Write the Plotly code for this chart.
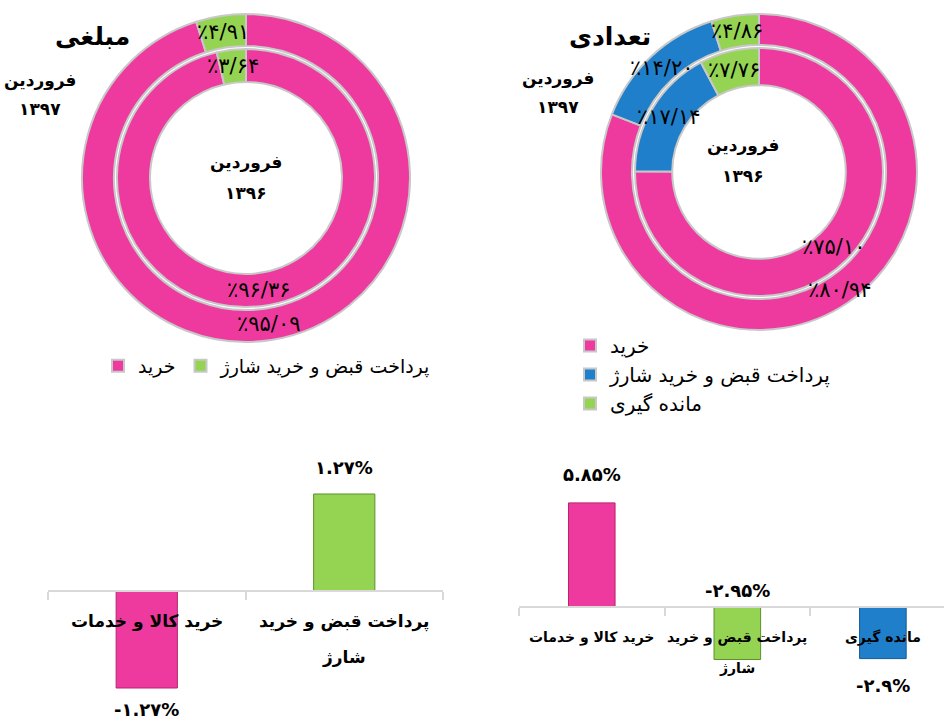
import math
import plotly.graph_objects as go

W, H = 944, 720

# ---------------- data ----------------
donut_labels = ["خرید", "پرداخت قبض و خرید شارژ", "مانده گیری"]
amount_1397 = [95.09, 4.91]          # outer ring, left (مبلغی)
amount_1396 = [96.36, 3.64]          # inner ring, left
count_1397 = [80.94, 14.20, 4.86]    # outer ring, right (تعدادی)
count_1396 = [75.10, 17.14, 7.76]    # inner ring, right

bar_cats_amount = ["خرید کالا و خدمات", "پرداخت قبض و خرید<br>شارژ"]
bar_vals_amount = [-1.27, 1.27]
bar_cats_count = ["خرید کالا و خدمات", "پرداخت قبض و خرید<br>شارژ", "مانده گیری"]
bar_vals_count = [5.85, -2.95, -2.9]

titles = ["مبلغی", "تعدادی"]
outer_period = ["فروردین", "۱۳۹۷"]
inner_period = ["فروردین", "۱۳۹۶"]

# ---------------- style ----------------
FONT = "DejaVu Sans"
PINK = "#EE3A9E"
GREEN = "#95D453"
BLUE = "#1F7FCB"
PINK_D = "#B8236F"
GREEN_D = "#5E8F2C"
BLUE_D = "#145A94"
RING_LINE = "#C8C8C8"
AXIS = "#D9D9D9"

FA = str.maketrans("0123456789", "۰۱۲۳۴۵۶۷۸۹")


def fa(s):
    return s.translate(FA)


def ring_label(v):
    return "٪" + fa(f"{v:.2f}".replace(".", "/"))


def bar_label(v):
    return fa(f"{v:g}") + "%"


fig = go.Figure()
annotations = []


def add_ring(vals, colors, box, hole, legend, group, showlegend):
    x0, y0, x1, y1 = box
    fig.add_trace(go.Pie(
        values=vals, labels=donut_labels[:len(vals)],
        marker=dict(colors=colors, line=dict(color=RING_LINE, width=2)),
        hole=hole, sort=False, direction="clockwise", rotation=0,
        textinfo="none", hoverinfo="skip",
        domain=dict(x=[x0 / W, x1 / W], y=[1 - y1 / H, 1 - y0 / H]),
        legend=legend, legendgroup=group, showlegend=showlegend,
    ))
    # slice labels placed at the middle of each slice (derived from values)
    cx, cy = (x0 + x1) / 2, (y0 + y1) / 2
    r = min(x1 - x0, y1 - y0) / 2
    rm = r * (1 + hole) / 2
    total = sum(vals)
    cum = 0
    for v in vals:
        f = (cum + v / 2) / total
        cum += v
        th = 2 * math.pi * f
        px = cx + rm * math.sin(th)
        py = cy - rm * math.cos(th)
        annotations.append(dict(
            x=px / W, y=1 - py / H, xref="paper", yref="paper",
            text=ring_label(v), showarrow=False,
            font=dict(family=FONT, size=21, color="black"),
            xanchor="center", yanchor="middle"))


# left donut (مبلغی)
add_ring(amount_1397, [PINK, GREEN], (82, 14, 410, 342), 0.805, "legend", "amount", True)
add_ring(amount_1396, [PINK, GREEN], (117, 49, 375, 307), 0.744, "legend", "amount", False)
# right donut (تعدادی)
add_ring(count_1397, [PINK, BLUE, GREEN], (601, 14, 917, 330), 0.804, "legend2", "count", True)
add_ring(count_1396, [PINK, BLUE, GREEN], (635, 48, 883, 296), 0.70, "legend2", "count", False)


def txt(x, y, s, size, bold=True):
    annotations.append(dict(
        x=x / W, y=1 - y / H, xref="paper", yref="paper", text=s,
        showarrow=False, xanchor="center", yanchor="middle",
        font=dict(family=FONT, size=size, color="black",
                  weight="bold" if bold else "normal")))


txt(92, 36, titles[0], 25)
txt(610, 36, titles[1], 25)
txt(40, 80, outer_period[0], 17)
txt(40, 109, outer_period[1], 17)
txt(558, 78, outer_period[0], 17)
txt(558, 107, outer_period[1], 17)
txt(246, 163, inner_period[0], 17)
txt(246, 193, inner_period[1], 17)
txt(743, 146, inner_period[0], 17)
txt(743, 176, inner_period[1], 17)

# ---------------- bars ----------------
fig.add_trace(go.Bar(
    x=bar_cats_amount, y=bar_vals_amount, width=0.31,
    marker=dict(color=[PINK, GREEN], line=dict(color=[PINK_D, GREEN_D], width=1)),
    xaxis="x", yaxis="y", showlegend=False, hoverinfo="skip"))
fig.add_trace(go.Bar(
    x=bar_cats_count, y=bar_vals_count, width=0.32,
    marker=dict(color=[PINK, GREEN, BLUE], line=dict(color=[PINK_D, GREEN_D, BLUE_D], width=1)),
    xaxis="x2", yaxis="y2", showlegend=False, hoverinfo="skip"))

for cat, v in zip(bar_cats_amount, bar_vals_amount):
    annotations.append(dict(
        x=cat, y=v, xref="x", yref="y", text=bar_label(v), showarrow=False,
        yanchor="middle", yshift=26 if v > 0 else -21,
        font=dict(family=FONT, size=18, color="black", weight="bold")))

label_on_axis = [False, True, False]
for cat, v, on_axis in zip(bar_cats_count, bar_vals_count, label_on_axis):
    annotations.append(dict(
        x=cat, y=0 if on_axis else v, xref="x2", yref="y2", text=bar_label(v),
        showarrow=False, yanchor="middle",
        yshift=17 if on_axis else (28 if v > 0 else -27),
        font=dict(family=FONT, size=18, color="black", weight="bold")))


# category labels (one annotation per text line, below the zero axis)
def cat_labels(cats, xref, yref, first, step, size):
    for cat in cats:
        for k, line in enumerate(cat.split("<br>")):
            annotations.append(dict(
                x=cat, y=0, xref=xref, yref=yref, text=line, showarrow=False,
                xanchor="center", yanchor="middle", yshift=-(first + k * step),
                font=dict(family=FONT, size=size, color="black", weight="bold")))


cat_labels(bar_cats_amount, "x", "y", 31, 35, 17)
cat_labels(bar_cats_count, "x2", "y2", 30, 31, 14)

axis_common = dict(
    type="category", showline=True, linecolor=AXIS, linewidth=2,
    ticks="outside", tickson="boundaries", ticklen=8, tickcolor=AXIS,
    tickwidth=2, showgrid=False, zeroline=False, fixedrange=True,
    anchor="free", showticklabels=False)

fig.update_layout(
    width=W, height=H,
    margin=dict(l=0, r=0, t=0, b=0),
    paper_bgcolor="white", plot_bgcolor="rgba(0,0,0,0)",
    font=dict(family=FONT, color="black"),
    bargap=0.5,
    xaxis=dict(axis_common, domain=[48 / W, 443 / W], position=1 - 591 / H,
               range=[-0.5, 1.5]),
    yaxis=dict(domain=[0, 1 - 460 / H], range=[-1.689, 1.715], visible=False,
               fixedrange=True),
    xaxis2=dict(axis_common, domain=[519 / W, 1], position=1 - 607 / H,
                range=[-0.5, 2.42]),
    yaxis2=dict(domain=[0, 1 - 460 / H], range=[-6.35, 8.26], visible=False,
                fixedrange=True),
    legend=dict(orientation="h", x=98 / W, y=1 - 347 / H, xanchor="left",
                yanchor="top", font=dict(family=FONT, size=19, color="black"),
                bgcolor="rgba(0,0,0,0)", traceorder="normal"),
    legend2=dict(orientation="v", x=570 / W, y=1 - 326 / H, xanchor="left",
                 yanchor="top", font=dict(family=FONT, size=20, color="black"),
                 bgcolor="rgba(0,0,0,0)", tracegroupgap=0, traceorder="normal"),
    annotations=annotations,
    showlegend=True,
)

fig.write_html("out.html")
